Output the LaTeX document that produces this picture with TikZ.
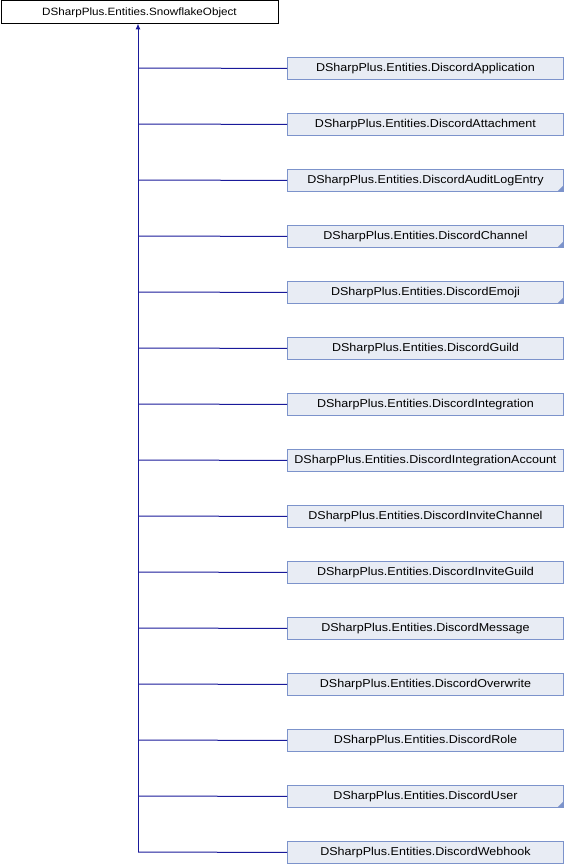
\documentclass[tikz,border=0pt]{standalone}
\usepackage{fontspec}
\setmainfont{Liberation Sans}
\newfontfamily\dfont[FakeStretch=1.1]{Liberation Sans}
\usetikzlibrary{arrows.meta}
\definecolor{edgec}{HTML}{1A1A9A}
\definecolor{boxfill}{HTML}{E8ECF4}
\definecolor{boxdraw}{HTML}{7C93CB}
\tikzset{
  base/.style={draw=black, fill=white, line width=0.9pt, minimum width=277pt, minimum height=23pt, inner sep=0pt, font=\dfont\fontsize{10.6}{12}\selectfont, anchor=north west},
  child/.style={draw=boxdraw, fill=boxfill, line width=0.9pt, minimum width=276pt, minimum height=22pt, inner sep=0pt, font=\dfont\fontsize{11.4}{13}\selectfont, anchor=north west},
  link/.style={draw=edgec, line width=1pt}
}
\begin{document}
\begin{tikzpicture}[x=1pt,y=-1pt]
\useasboundingbox (0,0) rectangle (564,864);
\node[base] (root) at (0.5,0.5) {DSharpPlus.Entities.SnowflakeObject};
\coordinate (trunk) at (138,852);
\draw[link, -{Latex[length=6pt,width=5pt]}] (trunk) -- (138,23.5);
\foreach \i/\name/\tri in {
 0/DiscordApplication/0,
 1/DiscordAttachment/0,
 2/DiscordAuditLogEntry/1,
 3/DiscordChannel/1,
 4/DiscordEmoji/1,
 5/DiscordGuild/0,
 6/DiscordIntegration/0,
 7/DiscordIntegrationAccount/0,
 8/DiscordInviteChannel/0,
 9/DiscordInviteGuild/0,
 10/DiscordMessage/0,
 11/DiscordOverwrite/0,
 12/DiscordRole/0,
 13/DiscordUser/1,
 14/DiscordWebhook/0}{
  \pgfmathsetmacro{\yy}{57+56*\i}
  \node[child] (c\i) at (287,\yy) {DSharpPlus.Entities.\name};
  \coordinate (j\i) at (138,\yy+11);
  \draw[link] (j\i) -- (c\i.west);
  \ifnum\tri=1
    \fill[boxdraw] ([shift={(-0.5,-0.5)}]c\i.south east) -- ++(-6,0) -- ++(6,-6) -- cycle;
  \fi
}
\end{tikzpicture}
\end{document}
